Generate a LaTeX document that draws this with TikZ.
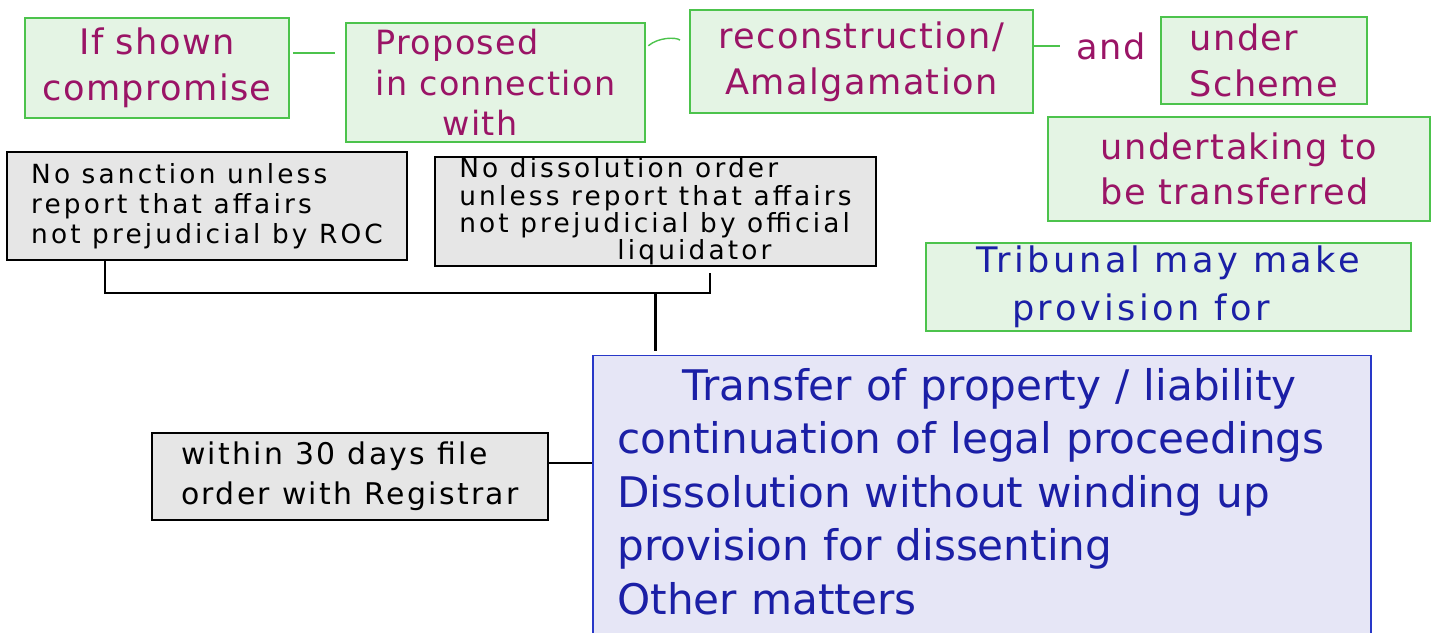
\documentclass[tikz,border=0pt]{standalone}
\usepackage{fontspec}
\setmainfont{DejaVu Sans}
\usetikzlibrary{positioning}
\definecolor{leaf}{HTML}{E4F4E4}
\definecolor{leafedge}{HTML}{4CC34C}
\definecolor{plum}{HTML}{9A1466}
\definecolor{ash}{HTML}{E6E6E6}
\definecolor{lilac}{HTML}{E6E6F6}
\definecolor{navy}{HTML}{1B1FA6}
\definecolor{navyedge}{HTML}{2838C8}
\tikzset{gbox/.style={draw=leafedge,line width=.7pt,fill=leaf,text=plum,inner sep=0pt,font=\fontsize{20}{26}\selectfont\addfontfeature{LetterSpace=4}},greybox/.style={draw=black,line width=1.5pt,fill=ash,align=left,inner sep=0pt,font=\fontsize{15}{15.5}\selectfont\addfontfeature{LetterSpace=12}},glink/.style={draw=leafedge,line width=.8pt},blink/.style={draw=black,line width=1.2pt}}

\begin{document}
\begin{tikzpicture}
\useasboundingbox (0,0) rectangle (28.76,12.64);
\node[gbox,minimum width=5.28cm,minimum height=2cm,align=center] (shown) at (3.14,11.28) {If shown\\compromise};
\node[gbox,minimum width=5.98cm,minimum height=2.38cm,align=left,font=\fontsize{19}{23}\selectfont\addfontfeature{LetterSpace=4}] (proposed) at (9.91,10.99) {Proposed\\in connection\\\hspace*{2em}with};
\node[gbox,minimum width=6.86cm,minimum height=2.06cm,align=center] (recon) at (17.23,11.41) {reconstruction/\\Amalgamation};
\node[text=plum,inner sep=0pt,font=\fontsize{20}{26}\selectfont\addfontfeature{LetterSpace=4}] (andword) at (22.22,11.72) {and};
\node[gbox,minimum width=4.12cm,minimum height=1.74cm,align=left] (scheme) at (25.28,11.43) {under\\Scheme};
\node[gbox,minimum width=7.64cm,minimum height=2.08cm,align=left] (undertaking) at (24.78,9.26) {undertaking to\\be transferred};
\node[gbox,text=navy,minimum width=9.7cm,minimum height=1.76cm,align=left,font=\fontsize{20}{27}\selectfont\addfontfeature{LetterSpace=10}] (tribunal) at (23.37,6.9) {Tribunal may make\\\hspace*{1em}provision for};
\node[greybox,minimum width=8cm,minimum height=2.16cm,font=\fontsize{15}{17}\selectfont\addfontfeature{LetterSpace=12}] (sanction) at (4.14,8.52) {No sanction unless\\report that affairs\\not prejudicial by ROC};
\node[greybox,minimum width=8.82cm,minimum height=2.18cm] (dissolution) at (13.11,8.41) {No dissolution order\\unless report that affairs\\not prejudicial by official\\\hspace*{6em}liquidator};
\node[greybox,minimum width=7.92cm,minimum height=1.74cm,font=\fontsize{17}{23}\selectfont\addfontfeature{LetterSpace=8}] (registrar) at (7,3.11) {within 30 days file\\order with Registrar};
\node[draw=navyedge,line width=.8pt,fill=lilac,text=navy,anchor=north,text width=14.58cm,inner xsep=14pt,inner ysep=7pt,align=left,font=\fontsize{24}{30.5}\selectfont] (matters) at (19.64,5.54) {\hspace*{37pt}Transfer of property / liability\\continuation of legal proceedings\\Dissolution without winding up\\provision for dissenting\\Other matters\par\vspace*{14pt}};
\draw[glink,shorten <=2pt,shorten >=6pt] ([yshift=3mm]shown.east) -- ([yshift=3mm]shown.east -| proposed.west);
\draw[glink,shorten <=2pt,shorten >=7pt] ([yshift=6.9mm]proposed.east) to[bend left=40] ([yshift=2.7mm]recon.west);
\draw[glink,shorten >=9pt] (recon.east |- andword.west) -- (andword.west);
\coordinate (brk) at ([yshift=-6.4mm]sanction.south);
\draw[blink] ([xshift=-20.4mm]sanction.south) -- ([xshift=-20.4mm]sanction.south |- brk) -| ([xshift=10.9mm,yshift=-1.2mm]dissolution.south);
\draw[blink,shorten >=2pt] (dissolution.south |- brk) -- (dissolution.south |- matters.north);
\draw[blink,line width=1.6pt] ([yshift=2.7mm]registrar.east) -- ([yshift=2.7mm]registrar.east -| matters.west);
\end{tikzpicture}
\end{document}
